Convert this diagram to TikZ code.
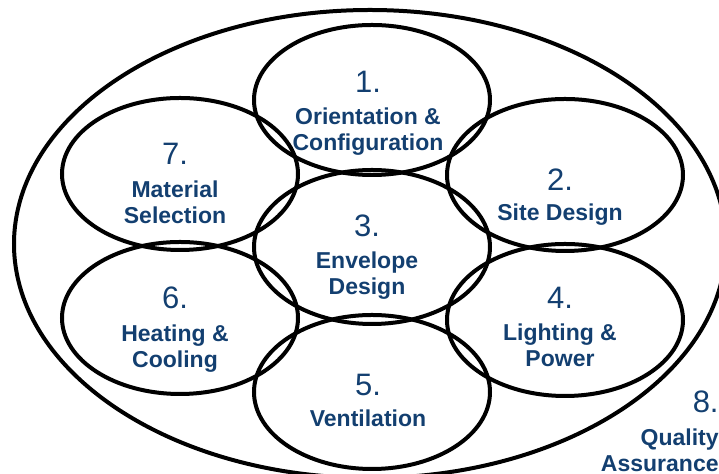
\documentclass[tikz,border=0pt]{standalone}
\usepackage{fontspec}
\setmainfont{Liberation Sans}
\definecolor{navy}{HTML}{133F70}

\begin{document}
\begin{tikzpicture}[x=0.5pt,y=-0.5pt,
	ring/.style={line width=2pt},
	num/.style={text=navy,anchor=base,inner sep=0pt,font=\fontsize{15.5}{18}\selectfont},
	lbl/.style={text=navy,anchor=base,inner sep=0pt,align=center,font=\fontsize{11.5}{13}\selectfont\bfseries}]
	\clip (0,0) rectangle (719,474);
	% big ring round everything
	\draw[ring] (370,244) ellipse (356 and 234);
	% the seven small rings
	\draw[ring] (372,100) ellipse (118 and 75);
	\draw[ring] (180,174) ellipse (118 and 76);
	\draw[ring] (565,175) ellipse (118 and 76);
	\draw[ring] (372,247) ellipse (118 and 77);
	\draw[ring] (180,318) ellipse (118 and 76);
	\draw[ring] (565,320) ellipse (118 and 76);
	\draw[ring] (372,392) ellipse (118 and 77);
	% numbers and names (base of a two-line name is its last line)
	\node[num] (n1) at (368,93) {1.};
	\node[lbl] (t1) at (368,151) {Orientation \&\\Configuration};
	\node[num] (n2) at (560,191) {2.};
	\node[lbl] (t2) at (560,221) {Site Design};
	\node[num] (n3) at (367,237) {3.};
	\node[lbl] (t3) at (367,295) {Envelope\\Design};
	\node[num] (n4) at (560,309) {4.};
	\node[lbl] (t4) at (560,367) {Lighting \&\\Power};
	\node[num] (n5) at (368,396) {5.};
	\node[lbl] (t5) at (368,427) {Ventilation};
	\node[num] (n6) at (175,309) {6.};
	\node[lbl] (t6) at (175,368) {Heating \&\\Cooling};
	\node[num] (n7) at (175,165) {7.};
	\node[lbl] (t7) at (175,224) {Material\\Selection};
	% the big ring's number sits in the corner
	\node[num,anchor=base east] (n8) at (719,413) {8.};
	\node[lbl,anchor=base east,align=right] (t8) at (719,472) {Quality\\Assurance};
\end{tikzpicture}
\end{document}
